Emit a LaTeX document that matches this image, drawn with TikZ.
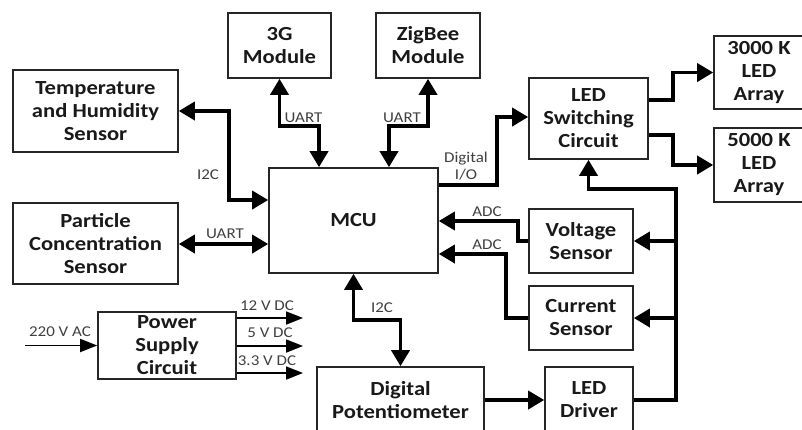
\documentclass[tikz,border=0pt]{standalone}
\usepackage{fontspec}
\setmainfont{Carlito}[FakeStretch=1.13]
\usetikzlibrary{arrows.meta}
\begin{document}
\begin{tikzpicture}[x=1pt,y=-1pt,
  >={Triangle[length=16pt,width=18pt]},
  box/.style={draw=black!85, line width=1.6pt, inner sep=0pt, align=center,
    font=\fontsize{20}{23}\selectfont\bfseries, text=black!90},
  conn/.style={line width=3.6pt, draw=black},
  pwr/.style={line width=1.8pt, draw=black, -{Triangle[length=17pt,width=13pt]}},
  lbl/.style={font=\fontsize{15}{17}\selectfont, text=black!75, inner sep=0pt, align=center}]
\useasboundingbox (0,0) rectangle (802,429);
\clip (0,0) rectangle (802,429);
% boxes
\node[box, minimum width=165pt, minimum height=82pt] (temp) at (95.5,111) {Temperature\\and Humidity\\Sensor};
\node[box, minimum width=165pt, minimum height=81pt] (part) at (95.5,243.5) {Particle\\Concentration\\Sensor};
\node[box, minimum width=103pt, minimum height=65pt] (g3) at (279.5,45.5) {3G\\Module};
\node[box, minimum width=104pt, minimum height=65pt] (zig) at (428,45.5) {ZigBee\\Module};
\node[box, minimum width=169pt, minimum height=105pt] (mcu) at (353.5,220.5) {MCU};
\node[box, minimum width=119pt, minimum height=81pt] (ledsw) at (588.5,118.5) {LED\\Switching\\Circuit};
\node[box, minimum width=90pt, minimum height=73pt] (k3) at (759,72.5) {3000 K\\LED\\Array};
\node[box, minimum width=90pt, minimum height=74pt] (k5) at (759,165) {5000 K\\LED\\Array};
\node[box, minimum width=104pt, minimum height=64pt] (volt) at (581,241) {Voltage\\Sensor};
\node[box, minimum width=104pt, minimum height=64pt] (curr) at (581,318) {Current\\Sensor};
\node[box, minimum width=88pt, minimum height=66pt] (drv) at (589,400) {LED\\Driver};
\node[box, minimum width=167pt, minimum height=66pt] (pot) at (400.5,400) {Digital\\Potentiometer};
\node[box, minimum width=138pt, minimum height=67pt] (psu) at (167,345.5) {Power\\Supply\\Circuit};
% connectors
\draw[conn,<->] (temp.east) -- (229,111) |- (mcu.west |- 0,200);
\draw[conn,<->] (g3.south) |- (319,126) -- (mcu.north -| 319,0);
\draw[conn,<->] (mcu.north -| 389,0) |- (428,126) -- (zig.south);
\draw[conn,<->] (part.east |- 0,244) -- (mcu.west |- 0,244);
\draw[conn,->] (mcu.east |- 0,185) -- (497,185) |- (ledsw.west |- 0,117);
\draw[conn,->] (ledsw.east |- 0,100) -- (673,100) |- (k3.west);
\draw[conn,->] (ledsw.east |- 0,135) -- (673,135) |- (k5.west);
\draw[conn,->] (volt.west) -- (518,241) |- (mcu.east |- 0,221);
\draw[conn,->] (curr.west) -- (506,318) |- (mcu.east |- 0,254);
\draw[conn,<->] (mcu.south) |- (400.5,320) -- (pot.north);
\draw[conn,->] (pot.east) -- (drv.west);
\draw[conn,->] (drv.east) -| (676,189) -| (ledsw.south);
\coordinate (bv) at (676,241);
\coordinate (bc) at (676,318);
\draw[conn,->] (bv) -- (volt.east);
\draw[conn,->] (bc) -- (curr.east);
% power
\coordinate (acin) at (25,345.5);
\coordinate (o12) at (303,318);
\coordinate (o5) at (303,346);
\coordinate (o33) at (303,373);
\draw[pwr] (acin) -- (psu.west);
\draw[pwr] (psu.east |- o12) -- (o12);
\draw[pwr] (psu.east |- o5) -- (o5);
\draw[pwr] (psu.east |- o33) -- (o33);
% labels
\node[lbl] (l1) at (208,175) {I2C};
\node[lbl] (l2) at (303.5,118) {UART};
\node[lbl] (l3) at (402,118) {UART};
\node[lbl] (l4) at (225,234) {UART};
\node[lbl] (l5) at (466,166.5) {Digital\\I/O};
\node[lbl] (l6) at (487,212) {ADC};
\node[lbl] (l7) at (487,245) {ADC};
\node[lbl] (l8) at (382,308) {I2C};
\node[lbl] (l9) at (60,332) {220 V AC};
\node[lbl] (l10) at (267,306) {12 V DC};
\node[lbl] (l11) at (270,333) {5 V DC};
\node[lbl] (l12) at (267,361) {3.3 V DC};
\end{tikzpicture}
\end{document}
